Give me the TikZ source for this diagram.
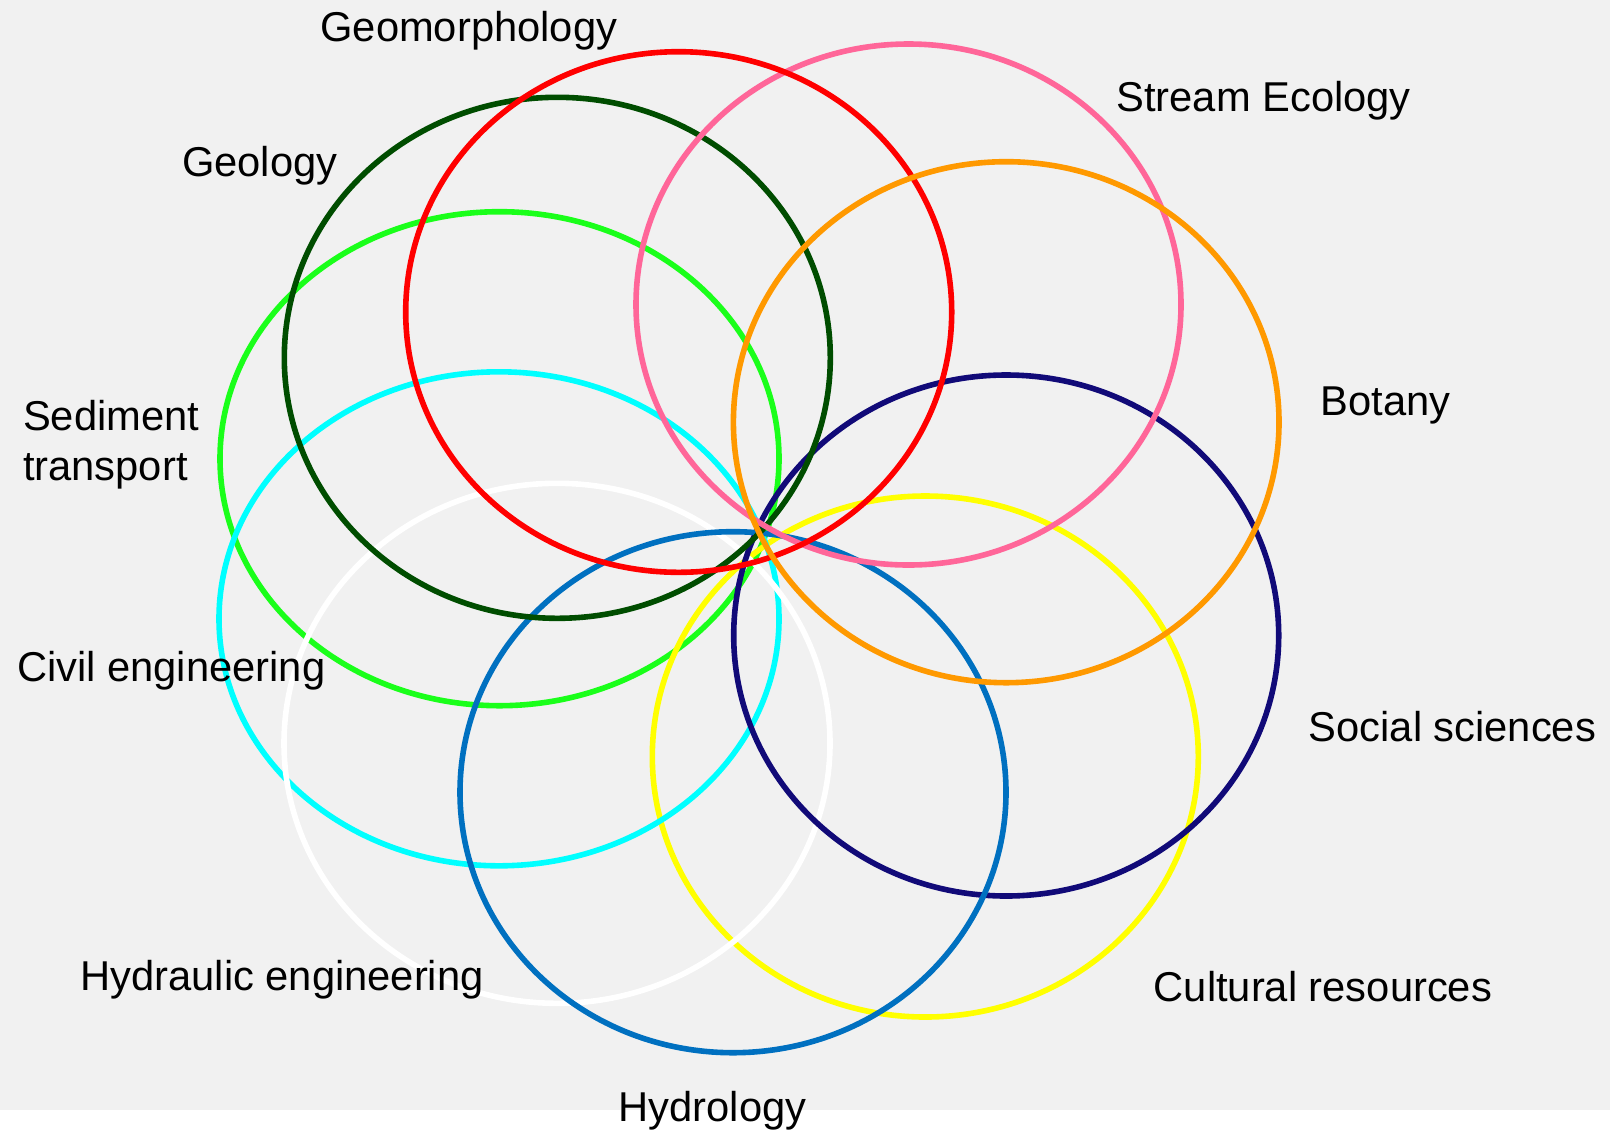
\documentclass[tikz,border=0pt]{standalone}
\usepackage{fontspec}
\setmainfont{Liberation Sans}
\usepackage{xcolor}
\definecolor{bggray}{RGB}{241,241,241}
\definecolor{geolgreen}{RGB}{0,77,0}
\definecolor{streampink}{RGB}{255,102,153}
\definecolor{botorange}{RGB}{255,153,0}
\definecolor{socnavy}{RGB}{17,10,120}
\definecolor{hydroblue}{RGB}{0,112,192}
\definecolor{sedgreen}{RGB}{26,255,26}
\definecolor{civcyan}{RGB}{0,255,255}
\definecolor{cultyellow}{RGB}{255,255,0}

\tikzset{
  ring/.style={line width=2.8pt},
  field/.style={inner sep=0pt,anchor=base west,align=left,font=\fontsize{20.85}{24.65}\selectfont}
}

\begin{document}
\begin{tikzpicture}[x=0.5pt,y=-0.5pt]
  \useasboundingbox (0,0) rectangle (1610,1131);
  \path[fill=bggray] (0,0) rectangle (1610,1110);

  \draw[ring,sedgreen] (499.5,458.7) ellipse [x radius=279.5, y radius=247];
  \draw[ring,cultyellow] (925.3,756.5) ellipse [x radius=273, y radius=260.5];
  \draw[ring,civcyan] (499,618.8) ellipse [x radius=280, y radius=247];
  \draw[ring,white] (557,743.3) ellipse [x radius=273, y radius=260];
  \draw[ring,socnavy] (1006.2,635.5) ellipse [x radius=272.5, y radius=260.5];
  \draw[ring,hydroblue] (733,792.2) ellipse [x radius=273, y radius=260.5];
  \draw[ring,geolgreen] (557.3,357.8) ellipse [x radius=273, y radius=260.5];
  \draw[ring,streampink] (908.5,304.5) ellipse [x radius=272.5, y radius=260.5];
  \draw[ring,red] (678.7,312) ellipse [x radius=273, y radius=260.3];
  \draw[ring,botorange] (1006.2,422.2) ellipse [x radius=272.8, y radius=260.5];

  \node[field] (geomorph) at (320,41.7) {Geomorphology};
  \node[field] (geology) at (181.7,176) {Geology};
  \node[field] (stream) at (1116,111.7) {Stream Ecology};
  \node[field] (botany) at (1320,415) {Botany};
  \node[field] (sediment) at (22.7,480) {Sediment\\transport};
  \node[field] (civil) at (16.7,681.7) {Civil engineering};
  \node[field] (social) at (1308.3,741.7) {Social sciences};
  \node[field] (hydraulic) at (80,990) {Hydraulic engineering};
  \node[field] (cultural) at (1153.3,1001.7) {Cultural resources};
  \node[field] (hydrology) at (618.3,1121) {Hydrology};
\end{tikzpicture}
\end{document}
